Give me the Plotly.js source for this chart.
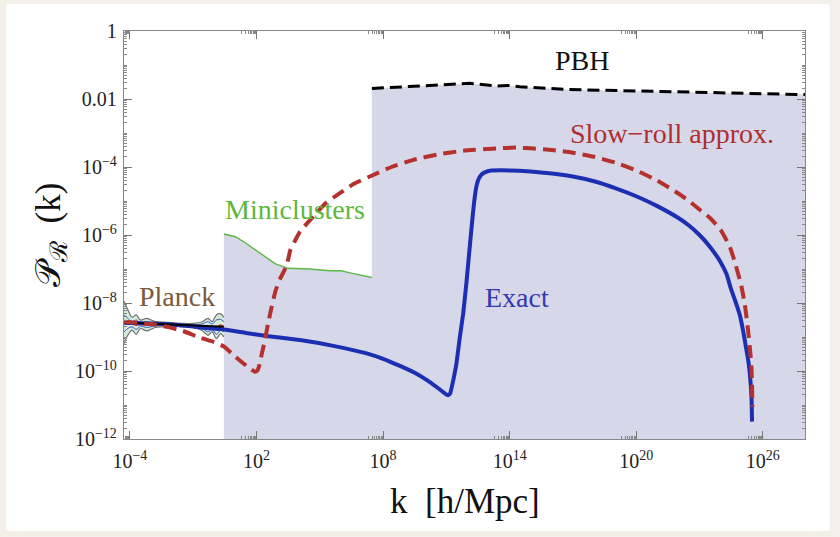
<!DOCTYPE html>
<html><head><meta charset="utf-8">
<script src="https://cdn.plot.ly/plotly-3.0.1.min.js"></script>
<style>
html,body{margin:0;padding:0;background:#f3f0ea;width:840px;height:537px;overflow:hidden}
#card{position:absolute;left:6px;top:4px;width:824px;height:527px;background:#fff;border-radius:3px}
#chart{position:absolute;left:0;top:0;width:840px;height:537px}
</style></head><body><div id="card"></div><div id="chart"></div>
<script>
// ---- data (log10 values) ----
const exactLogK = [-4.28,-3.0,-2.0,-1.0,-0.68,0.455,1.5,2.48,4.06,5.64,7.22,8.0,8.8,9.5,10.06,10.6,10.85,11.0,11.09,11.18,11.3,11.4,11.48,11.64,11.8,11.96,12.11,12.23,12.35,12.45,12.55,12.67,12.85,13.06,14.0,15.0,16.0,17.0,18.0,19.0,20.0,21.0,22.0,22.5,23.0,23.5,24.0,24.28,24.5,24.7,24.91,25.07,25.2,25.3,25.38,25.44,25.47,25.49];
const exactLogP = [-8.58,-8.6,-8.63,-8.69,-8.72,-8.78,-8.88,-8.97,-9.09,-9.26,-9.48,-9.64,-9.85,-10.05,-10.26,-10.5,-10.62,-10.69,-10.71,-10.66,-10.35,-10.05,-9.77,-9.0,-8.3,-7.35,-6.34,-5.55,-4.87,-4.5,-4.33,-4.22,-4.15,-4.11,-4.1,-4.13,-4.19,-4.28,-4.42,-4.62,-4.86,-5.15,-5.5,-5.72,-6.0,-6.35,-6.8,-7.15,-7.6,-7.95,-8.35,-8.83,-9.3,-9.65,-10.05,-10.5,-10.9,-11.49];

const slowLogK = [-4.28,-3.0,-2.26,-1.5,-0.68,0.0,0.455,1.0,1.37,1.7,1.92,2.05,2.15,2.25,2.4,2.55,2.72,2.9,3.11,3.43,3.6,3.8,4.06,4.69,5.3,5.95,6.6,7.37,8.4,9.43,10.6,11.8,13.5,14.3,15.0,16.0,17.0,18.0,19.0,20.0,21.0,22.0,22.5,23.0,23.5,24.0,24.44,24.7,24.99,25.15,25.3,25.4,25.46,25.49,25.51];
const slowLogP = [-8.55,-8.62,-8.7,-8.82,-9.02,-9.15,-9.28,-9.58,-9.77,-9.93,-10.02,-9.98,-9.8,-9.5,-9.09,-8.6,-8.11,-7.65,-7.3,-6.9,-6.45,-6.2,-5.9,-5.46,-5.05,-4.77,-4.5,-4.28,-4.0,-3.79,-3.63,-3.52,-3.45,-3.43,-3.45,-3.5,-3.58,-3.7,-3.87,-4.1,-4.4,-4.78,-5.0,-5.25,-5.5,-5.85,-6.35,-6.85,-7.52,-8.05,-8.79,-9.4,-9.87,-10.4,-11.05];

const miniLogK = [0.455,1.0,1.4,2.2,2.9,3.5,4.5,5.5,6.0,6.5,7.47];
const miniLogP = [-5.97,-6.05,-6.2,-6.55,-6.85,-6.98,-7.0,-7.05,-7.05,-7.12,-7.25];

const pbhLogK = [7.47,9.43,12.11,12.8,13.38,13.9,14.48,16.69,21.43,27.75,28.0];
const pbhLogP = [-1.69,-1.62,-1.54,-1.58,-1.62,-1.6,-1.64,-1.72,-1.78,-1.86,-1.87];

const planckLogK   = [-4.28,-4.1,-3.9,-3.7,-3.5,-3.2,-2.8,-2.4,-2.0,-1.5,-1.0,-0.6,-0.3,-0.1,0.1,0.3,0.455];
const planckUpper  = [-7.95,-8.2,-8.42,-8.35,-8.5,-8.45,-8.55,-8.56,-8.58,-8.6,-8.6,-8.56,-8.45,-8.55,-8.35,-8.32,-8.42];
const planckLower  = [-9.2,-8.95,-8.8,-8.92,-8.75,-8.82,-8.72,-8.7,-8.68,-8.7,-8.72,-8.8,-8.95,-8.85,-9.05,-8.9,-9.0];
const planckUpIn   = [-8.35,-8.45,-8.55,-8.5,-8.58,-8.55,-8.6,-8.6,-8.61,-8.63,-8.64,-8.62,-8.55,-8.62,-8.5,-8.48,-8.55];
const planckLowIn  = [-8.85,-8.75,-8.7,-8.78,-8.68,-8.72,-8.67,-8.66,-8.65,-8.67,-8.69,-8.74,-8.85,-8.78,-8.92,-8.8,-8.85];
const planckCenter = [-8.6,-8.62,-8.62,-8.65,-8.63,-8.64,-8.63,-8.63,-8.63,-8.65,-8.67,-8.68,-8.7,-8.7,-8.72,-8.65,-8.7];
const planckFitLogK = [-4.28,0.455];
const planckFitLogP = [-8.57,-8.70];

const floorLogP = -12;
const xTickExp = [-4,2,8,14,20,26];
const yTickExp = [-12,-10,-8,-6,-4,-2,0];
const yTickText = ['10<sup>−12</sup>','10<sup>−10</sup>','10<sup>−8</sup>','10<sup>−6</sup>','10<sup>−4</sup>','0.01','1'];

// ---- helpers ----
const P = a => a.map(v => Math.pow(10, v));

const shadeK = [miniLogK[0]].concat(miniLogK, pbhLogK, [pbhLogK[pbhLogK.length-1], miniLogK[0]]);
const shadeP = [floorLogP].concat(miniLogP, pbhLogP, [floorLogP, floorLogP]);

const blue = '#1c2fb2', red = '#b5312e';
const sp = {shape:'spline', smoothing:0.45};
const traces = [
  {x:P(shadeK), y:P(shadeP), mode:'lines', fill:'toself', fillcolor:'rgb(214,216,234)', line:{width:0}, hoverinfo:'skip'},
  {x:P(planckLogK), y:P(planckUpper), mode:'lines', line:{color:'#6f6f6f', width:1.2, shape:'spline', smoothing:0.8}},
  {x:P(planckLogK), y:P(planckLower), mode:'lines', line:{color:'#6f6f6f', width:1.2, shape:'spline', smoothing:0.8}, fill:'tonexty', fillcolor:'rgb(212,236,216)'},
  {x:P(planckLogK), y:P(planckUpIn), mode:'lines', line:{color:'#3a55d8', width:1, shape:'spline', smoothing:0.8}},
  {x:P(planckLogK), y:P(planckLowIn), mode:'lines', line:{color:'#3a55d8', width:1, shape:'spline', smoothing:0.8}},
  {x:P(planckLogK), y:P(planckCenter), mode:'lines', line:{color:'#e0302c', width:1.6, shape:'spline', smoothing:0.8}},
  {x:P(miniLogK), y:P(miniLogP), mode:'lines', line:{color:'#5cb845', width:1.4}},
  {x:P(pbhLogK), y:P(pbhLogP), mode:'lines', line:{color:'#000', width:3, dash:'12px,6px'}},
  {x:P(exactLogK), y:P(exactLogP), mode:'lines', line:Object.assign({color:blue, width:4}, sp)},
  {x:P(planckFitLogK), y:P(planckFitLogP), mode:'lines', line:{color:'#000', width:2}},
  {x:P(slowLogK), y:P(slowLogP), mode:'lines', line:Object.assign({color:red, width:4, dash:'13px,7px'}, sp)}
];

// minor ticks
const xMinor = [];
xTickExp.forEach(e => { for (let m=2; m<=9; m++) xMinor.push(m*Math.pow(10, e-1)); });
const yMinor = [];
for (let e=-12; e<0; e++) { yMinor.push(Math.pow(10,e)); for (let m=2; m<=9; m++) yMinor.push(m*Math.pow(10,e)); }

const serif = 'Liberation Serif, Times New Roman, serif';
const W = 681, H = 408, L = 124, T = 31;
const px = x => (x - L) / W, py = y => (T + H - y) / H;
const ann = (text, x, y, size, color, extra) => Object.assign({text, xref:'paper', yref:'paper', x:px(x), y:py(y),
  xanchor:'center', yanchor:'middle', showarrow:false, font:{family:serif, size, color}}, extra || {});

const layout = {
  width:840, height:537,
  margin:{l:124, r:35, t:31, b:98},
  paper_bgcolor:'rgba(0,0,0,0)', plot_bgcolor:'#fff',
  showlegend:false,
  font:{family:serif, size:20, color:'#222'},
  xaxis:{type:'log', range:[-4.28, 28.0], tickvals:P(xTickExp),
    ticktext:xTickExp.map(e => '10<sup>' + String(e).replace('-', '−') + '</sup>'),
    ticks:'inside', ticklen:8, tickcolor:'#777', tickwidth:1, mirror:'ticks',
    showline:true, linecolor:'#888', linewidth:1.2, showgrid:false, zeroline:false,
    tickfont:{family:serif, size:20, color:'#222'}, ticklabelstandoff:4,
    minor:{tickvals:xMinor, ticks:'inside', ticklen:3, tickcolor:'#888', showgrid:false}},
  yaxis:{type:'log', range:[-12, 0], tickvals:P(yTickExp), ticktext:yTickText,
    ticks:'inside', ticklen:8, tickcolor:'#777', tickwidth:1, mirror:'ticks',
    showline:true, linecolor:'#888', linewidth:1.2, showgrid:false, zeroline:false,
    tickfont:{family:serif, size:20, color:'#222'}, ticklabelstandoff:2,
    minor:{tickvals:yMinor, ticks:'inside', ticklen:3, tickcolor:'#888', showgrid:false}},
  annotations:[
    ann('PBH', 582, 61, 28, '#111'),
    ann('Slow−roll approx.', 672, 133, 28, '#b02e2c'),
    ann('Miniclusters', 295, 209, 28, '#5cb83c'),
    ann('Planck', 176.5, 296, 28, '#7a5a3a'),
    ann('Exact', 516.5, 297, 28, '#3438b0'),
    ann('k\u00a0\u00a0[h/Mpc]', 465, 502, 35, '#111'),
    ann('𝒫<sub>ℛ</sub>\u00a0\u00a0(k)', 50, 235, 35, '#111', {textangle:-90})
  ]
};
Plotly.newPlot('chart', traces, layout, {displayModeBar:false, staticPlot:true});
</script></body></html>
